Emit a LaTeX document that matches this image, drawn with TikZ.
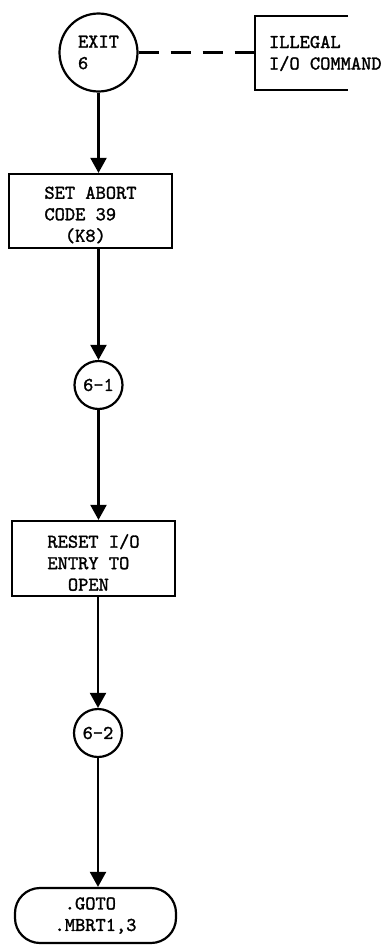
\documentclass[tikz,border=0pt]{standalone}
\usepackage{fontspec}
\newfontfamily\tw{lmmono10-regular.otf}[AutoFakeBold=1.5]
\usetikzlibrary{arrows.meta,shapes.misc}
\begin{document}
\begin{tikzpicture}[x=1pt,y=-1pt,
  every node/.style={font=\tw\bfseries\fontsize{19.5}{21.5}\selectfont, inner sep=0pt},
  ln/.style={line width=2.2pt},
  arr/.style={ln,-{Triangle[width=16pt,length=15pt]}},
  conn/.style={draw,circle,ln},
  procbox/.style={draw,rectangle,ln,minimum width=163pt,minimum height=74pt},
  term/.style={draw,rectangle,rounded corners=25pt,ln,minimum width=161pt,minimum height=55pt,align=left},
  txt/.style={align=left},
  dashline/.style={ln,dash pattern=on 20pt off 12pt}]
\useasboundingbox (0,0) rectangle (388,945);

\node[conn,minimum size=78pt,align=left] (exit) at (98.5,52.5) {EXIT\\6};
\node[minimum width=93pt,minimum height=74pt] (illegal) at (301.5,53) {};
\draw[ln] (illegal.north east) -- (illegal.north west) -- (illegal.south west) -- (illegal.south east);
\node[txt,anchor=west] (illtxt) at ([xshift=14pt,yshift=-0.5pt]illegal.west) {ILLEGAL\\I/O COMMAND};
\draw[dashline] (exit.east) -- (exit.east -| illegal.west);

\node[procbox] (sa) at (90.5,211) {};
\node[txt] (satxt) at ([yshift=-4pt]sa.center) {SET ABORT\\CODE 39\\~~(K8)};
\node[conn,minimum size=48pt] (c61) at (98.5,385) {6-1};
\node[procbox,minimum height=75pt] (rs) at (93.5,558.5) {};
\node[txt] (rstxt) at ([yshift=-4pt]rs.center) {RESET I/O\\ENTRY TO\\~~OPEN};
\node[conn,minimum size=48pt] (c62) at (98,733) {6-2};
\node[term] (goto) at (95.5,915.5) {~.GOTO\\.MBRT1,3};

\draw[arr] (exit.south) -- (exit.south |- sa.north);
\draw[arr] (c61.north |- sa.south) -- (c61.north);
\draw[arr] (c61.south) -- (c61.south |- rs.north);
\draw[arr] (c62.north |- rs.south) -- (c62.north);
\draw[arr] (c62.south) -- (c62.south |- goto.north);
\end{tikzpicture}
\end{document}
